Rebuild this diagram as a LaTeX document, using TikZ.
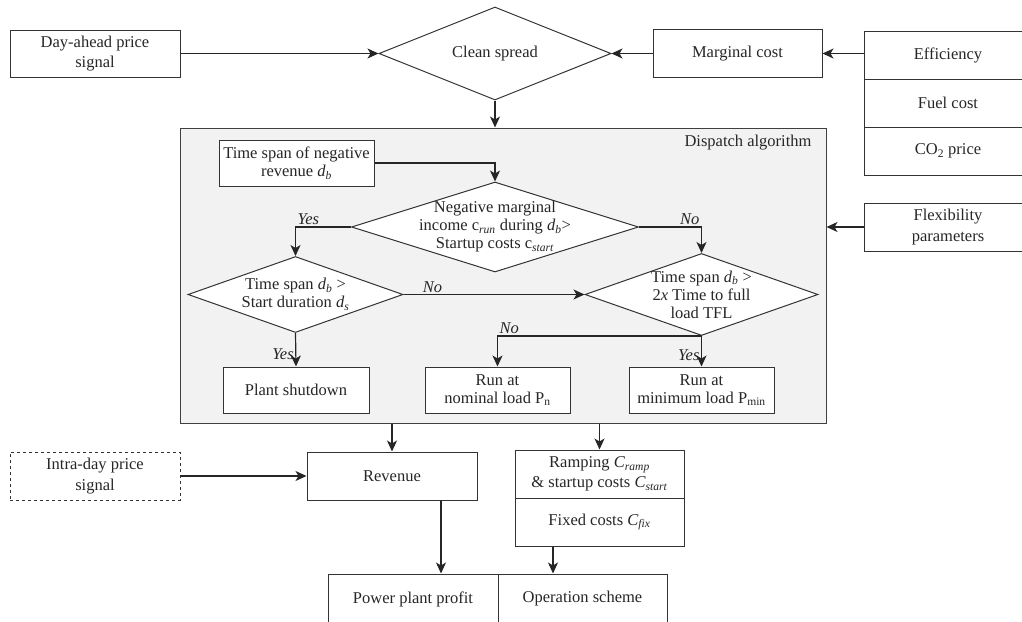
\documentclass[tikz,border=0pt]{standalone}
\usepackage{fontspec}
\setmainfont{Liberation Serif}
\usetikzlibrary{shapes.geometric,arrows.meta,positioning}

\newcommand{\vsub}[2]{\textit{#1}\textsubscript{\textit{#2}}}

\begin{document}
\begin{tikzpicture}[x=1pt,y=-1pt,
    font=\fontsize{16.5}{18}\selectfont,
    every node/.style={text=black!85},
    box/.style={draw=black!80, line width=1pt, fill=white, align=center, inner sep=0pt},
    wide/.style={font=\fontsize{16.5}{20.5}\selectfont},
    decision/.style={diamond, draw=black!80, line width=1pt, fill=white, inner sep=0pt},
    arr/.style={draw=black!85, line width=1.2pt, -{Stealth[length=11pt,width=10pt,inset=3pt]}},
    lbl/.style={font=\fontsize{16.5}{18}\selectfont\itshape, inner sep=1.5pt}]
    \clip (0,0) rectangle (1022,621);

    % inputs on top
    \node[box, wide, minimum width=170, minimum height=47] (dayahead) at (95,53.5) {Day-ahead price\\signal};
    \node[decision, minimum width=232, minimum height=93] (clean) at (495,53.5) {};
    \node (cleantxt) at (clean.center) {Clean spread};
    \node[box, minimum width=169, minimum height=48] (marginal) at (737.5,53.5) {Marginal cost};
    \node[box, minimum width=168, minimum height=48] (eff) at (948,55) {Efficiency};
    \node[box, minimum width=168, minimum height=48] (fuel) at (948,103) {Fuel cost};
    \node[box, minimum width=168, minimum height=48] (co2) at (948,151) {CO\textsubscript{2} price};
    \node[box, wide, minimum width=168, minimum height=48] (flex) at (948,227) {Flexibility\\parameters};

    % dispatch algorithm
    \node[draw=black!75, line width=1pt, fill=black!5, minimum width=646, minimum height=295, inner sep=0pt] (dispatch) at (503,275.5) {};
    \node[anchor=east] (disptxt) at (815,143) {Dispatch algorithm};
    \node[box, minimum width=155, minimum height=46] (negrev) at (296.5,163) {Time span of negative\\revenue \vsub{d}{b}};
    \node[decision, minimum width=287, minimum height=90] (dia1) at (495,227) {};
    \node[align=center] (dia1txt) at (dia1.center) {Negative marginal\\income c\textsubscript{\textit{run}} during \vsub{d}{b}>\\Startup costs c\textsubscript{\textit{start}}};
    \node[decision, minimum width=215, minimum height=76] (dia2) at (295.5,294.5) {};
    \node[align=center] (dia2txt) at (dia2.center) {Time span \vsub{d}{b} >\\Start duration \vsub{d}{s}};
    \node[decision, minimum width=233, minimum height=82] (dia3) at (701.5,294.5) {};
    \node[align=center] (dia3txt) at (dia3.center) {Time span \vsub{d}{b} >\\2\textit{x} Time to full\\load TFL};
    \node[box, minimum width=146, minimum height=46] (shutdown) at (296,390) {Plant shutdown};
    \node[box, minimum width=145, minimum height=46] (nominal) at (497.5,390) {Run at\\nominal load P\textsubscript{n}};
    \node[box, minimum width=145, minimum height=46] (minimum) at (701.5,390) {Run at\\minimum load P\textsubscript{min}};

    % results
    \node[box, wide, dashed, minimum width=170, minimum height=48] (intraday) at (95,476) {Intra-day price\\signal};
    \node[box, minimum width=170, minimum height=48] (revenue) at (392,476) {Revenue};
    \node[box, wide, minimum width=169, minimum height=48] (ramping) at (599.5,474) {Ramping \vsub{C}{ramp}\\\& startup costs \vsub{C}{start}};
    \node[box, minimum width=169, minimum height=48] (fixed) at (599.5,522) {Fixed costs \vsub{C}{fix}};
    \node[box, minimum width=170, minimum height=50] (profit) at (413,599) {Power plant profit};
    \node[box, minimum width=169, minimum height=50] (operation) at (582.5,599) {Operation scheme};

    % connectors
    \draw[arr] (dayahead.east) -- (clean.west);
    \draw[arr] (marginal.west) -- (clean.east);
    \draw[arr] (marginal.east -| eff.west) -- (marginal.east);
    \draw[arr] (clean.south) -- (clean.south |- dispatch.north);
    \draw[arr] (flex.west) -- (flex.west -| dispatch.east);
    \draw[arr] (negrev.east) -| (dia1.north);
    \draw[arr] (dia1.west) -| node[lbl, above right, pos=0.5] {Yes} (dia2.north);
    \draw[arr] (dia1.east) -| node[lbl, above left, pos=0.5] {No} (dia3.north);
    \draw[arr] (dia2.east) -- node[lbl, above, pos=0.16] {No} (dia3.west);
    \draw[arr] (dia2.south) -- node[lbl, left, pos=0.62] {Yes} (shutdown.north);
    \draw[arr] (dia3.south) -- node[lbl, left, pos=0.62] {Yes} (minimum.north);
    \draw[arr] (dia3.south) -| node[lbl, above right, pos=0.5] {No} (nominal.north);
    \draw[arr] (revenue.north |- dispatch.south) -- (revenue.north);
    \draw[arr] (ramping.north |- dispatch.south) -- (ramping.north);
    \draw[arr] (intraday.east) -- (revenue.west);
    \draw[arr] ([xshift=49]revenue.south) -- ([xshift=49]revenue.south |- profit.north);
    \draw[arr] ([xshift=-46.5]fixed.south) -- ([xshift=-46.5]fixed.south |- operation.north);
\end{tikzpicture}
\end{document}
